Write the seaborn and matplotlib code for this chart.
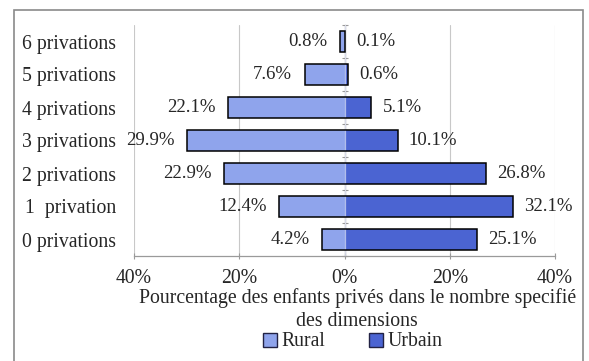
import matplotlib
matplotlib.use("Agg")
import matplotlib.pyplot as plt
import seaborn as sns
import pandas as pd
from matplotlib.patches import Patch, Rectangle

# Share of children deprived in the given number of dimensions, by area
categories = ["6 privations", "5 privations", "4 privations", "3 privations",
              "2 privations", "1  privation", "0 privations"]
rural = [0.8, 7.6, 22.1, 29.9, 22.9, 12.4, 4.2]
urbain = [0.1, 0.6, 5.1, 10.1, 26.8, 32.1, 25.1]
tick_values = [-40, -20, 0, 20, 40]
tick_labels = ["40%", "20%", "0%", "20%", "40%"]

rural_color = "#8fa4ec"
urbain_color = "#4b64d2"
bar_width = 0.65

sns.set_style("white")
plt.rcParams["font.family"] = ["Liberation Serif", "DejaVu Serif"]

df = pd.DataFrame({"cat": categories,
                   "rural": [-v for v in rural],
                   "urbain": urbain})

fig = plt.figure(figsize=(5.89, 3.61), dpi=100)
ax = fig.add_axes([134 / 589, 1 - 256 / 361, 421 / 589, 231 / 361])

# Filled halves: rural to the left of zero, urban to the right
sns.barplot(data=df, x="rural", y="cat", order=categories, orient="h",
            color=rural_color, saturation=1, width=bar_width,
            linewidth=0, ax=ax, zorder=3)
sns.barplot(data=df, x="urbain", y="cat", order=categories, orient="h",
            color=urbain_color, saturation=1, width=bar_width,
            linewidth=0, ax=ax, zorder=3)

# One black outline around each rural+urban pair
ypos = list(range(len(categories)))
ax.barh(ypos, [r + u for r, u in zip(rural, urbain)],
        left=[-r for r in rural], height=bar_width, fill=False,
        edgecolor="black", linewidth=1.1, zorder=5)

# Faint zero line across the bars
ax.axvline(0, color="#dfe4f7", linewidth=0.9, alpha=0.7, zorder=4)

fs_val = 13.5
ax.bar_label(ax.containers[0], labels=[f"{v}%" for v in rural],
             padding=9, fontsize=fs_val)
ax.bar_label(ax.containers[1], labels=[f"{v}%" for v in urbain],
             padding=8, fontsize=fs_val)

fs = 14.2
ax.set_xlim(-40, 40)
ax.set_ylim(len(categories) - 0.5, -0.5)
ax.set_xticks(tick_values)
ax.set_xticklabels(tick_labels, fontsize=fs)
ax.grid(axis="x", color="#c8c8c8", linewidth=0.8, zorder=0)
ax.grid(axis="y", visible=False)

for side in ("top", "right", "left"):
    ax.spines[side].set_visible(False)
ax.spines["bottom"].set_color("#9a9a9a")
ax.spines["bottom"].set_linewidth(0.9)
ax.tick_params(axis="x", direction="inout", length=5, color="#9a9a9a",
               pad=7, bottom=True)
ax.tick_params(axis="y", length=0, pad=13, labelsize=fs)
for lbl in ax.get_yticklabels():
    lbl.set_horizontalalignment("right")

# Small category separators on the zero axis
sec = ax.secondary_yaxis(0.5)
sec.set_yticks([i - 0.5 for i in range(len(categories) + 1)])
sec.set_yticklabels([])
sec.tick_params(direction="inout", length=4, width=0.8, color="#9a9a9a")
sec.spines["left"].set_visible(False)

ax.set_ylabel("")
ax.set_xlabel("Pourcentage des enfants privés dans le nombre specifié\n"
              "des dimensions", fontsize=fs, labelpad=0, linespacing=1.3)
ax.xaxis.label.set_x(0.53)

handles = [Patch(facecolor=rural_color, edgecolor="#222244", linewidth=1.0),
           Patch(facecolor=urbain_color, edgecolor="#222244", linewidth=1.0)]
fig.legend(handles, ["Rural", "Urbain"], loc="center",
           bbox_to_anchor=(353 / 589, 1 - 342 / 361), ncol=2, frameon=False,
           fontsize=fs, handlelength=0.7, handleheight=0.7,
           handletextpad=0.25, columnspacing=2.2, borderpad=0)

# Frame around the whole chart
fig.patches.append(Rectangle((14 / 589, -0.05), (583 - 14) / 589, 1.05 - 10 / 361,
                             transform=fig.transFigure, fill=False,
                             edgecolor="#8a8a8a", linewidth=1.2))

fig.savefig("out.png", dpi=100, facecolor="white")
